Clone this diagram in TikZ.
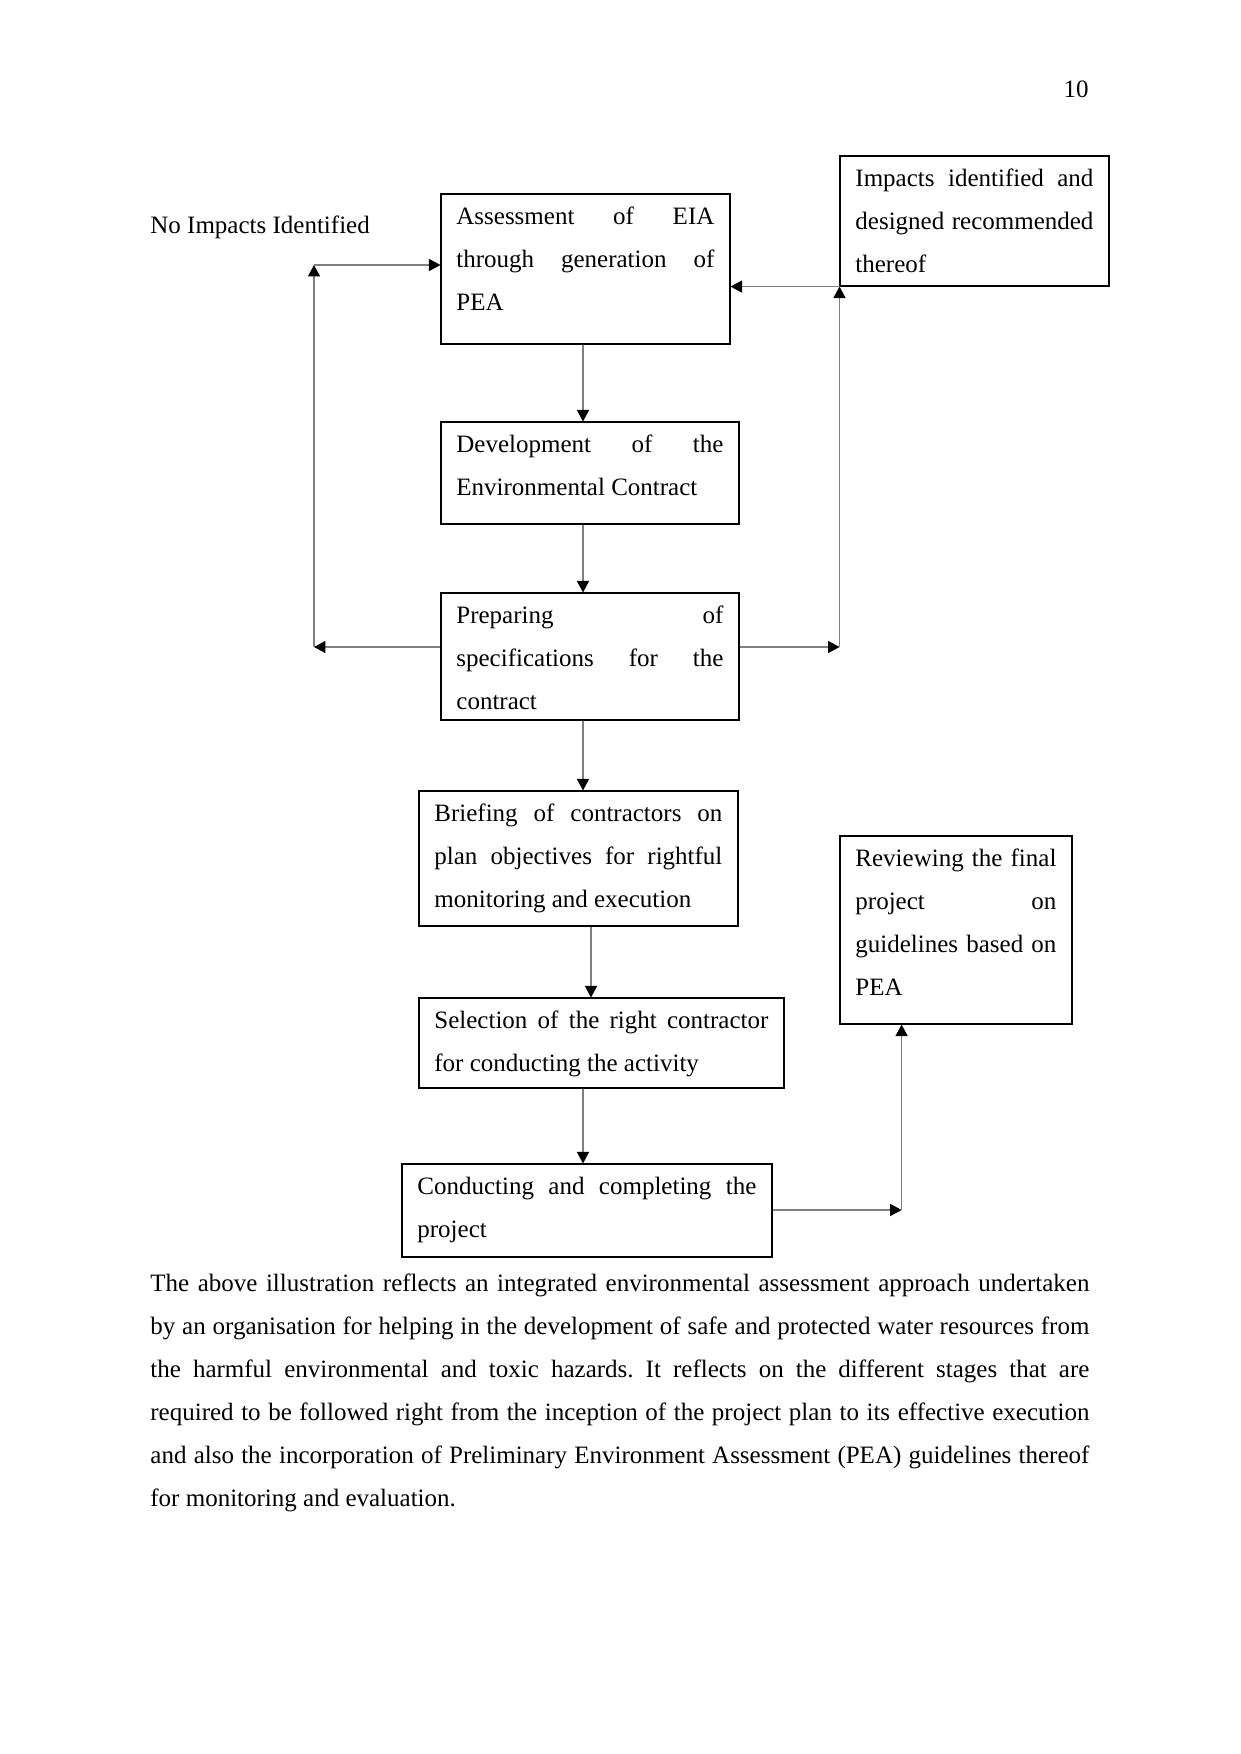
\documentclass[tikz,border=0pt]{standalone}
\usepackage{fontspec}
\setmainfont{Liberation Serif}
\usetikzlibrary{arrows.meta,fit}
\tolerance=10000 \hbadness=10000 \vbadness=10000
\hyphenpenalty=10000 \exhyphenpenalty=10000
\frenchspacing
\tikzset{
  box/.style={draw=black, line width=0.55pt, inner sep=0pt, rectangle},
  txt/.style={inner sep=0pt, anchor=base west, font=\fontsize{12pt}{20.7pt}\selectfont},
  plain/.style={inner sep=0pt, font=\fontsize{12pt}{20.7pt}\selectfont},
  conn/.style={draw=black!50, line width=0.5pt, -{Triangle[length=5.5pt,width=5.8pt,color=black]}}
}
\newcommand\jtext[2]{\begin{minipage}[t]{#1}\fontsize{12pt}{20.7pt}\selectfont\frenchspacing
  \parindent=0pt\leftskip=0pt\rightskip=0pt\parfillskip=0pt plus 1fil\relax #2\end{minipage}}
\newcommand\fbx[6]{%
  \node[box, fit={(#2,#3)(#4,#5)}] (#1) {};
  \pgfmathsetmacro\bxtw{(#4-#2-31)*0.48}
  \node[txt] (#1t) at (#2+15,#3+30) {\jtext{\bxtw pt}{#6}};
}
\begin{document}
\begin{tikzpicture}[x=0.48pt,y=-0.48pt]
\fill[white] (0,0) rectangle (1241,1754);
\useasboundingbox (0,0) rectangle (1241,1754);

\node[plain, anchor=base east] (pnum) at (1089,97) {10};
\node[plain, anchor=base west] (noimp) at (150,233) {No Impacts Identified};

\fbx{b1}{441}{194}{730}{344}{Assessment of EIA\linebreak through generation of\linebreak PEA}
\fbx{imp}{840}{156}{1109}{286}{Impacts identified and\linebreak designed recommended\linebreak thereof}
\fbx{b2}{441}{422}{739}{524}{Development of the\linebreak Environmental Contract}
\fbx{b3}{441}{593}{739}{720}{Preparing of\linebreak specifications for the\linebreak contract}
\fbx{b4}{419}{791}{738}{926}{Briefing of contractors on\linebreak plan objectives for rightful\linebreak monitoring and execution}
\fbx{b5}{419}{998}{784}{1088}{Selection of the right contractor\linebreak for conducting the activity}
\fbx{b6}{402}{1164}{772}{1257}{Conducting and completing the\linebreak project}
\fbx{rev}{840}{836}{1072}{1024}{Reviewing the final\linebreak project on\linebreak guidelines based on\linebreak PEA}

% helper coordinates
\coordinate (mid) at (583,0);
\coordinate (mid2) at (591,0);
\coordinate (LB) at (314,647);
\coordinate (LT) at (314,265);
\coordinate (RB) at (839.5,647);
\coordinate (BR) at (901.6,1210);

% main chain
\draw[conn] (b1.south -| mid) -- (b2.north -| mid);
\draw[conn] (b2.south -| mid) -- (b3.north -| mid);
\draw[conn] (b3.south -| mid) -- (b4.north -| mid);
\draw[conn] (b4.south -| mid2) -- (b5.north -| mid2);
\draw[conn] (b5.south -| mid) -- (b6.north -| mid);

% left loop
\draw[conn] (b3.west |- LB) -- (LB);
\draw[conn] (LB) -- (LT);
\draw[conn] (LT) -- (LT -| b1.west);

% right loop
\draw[conn] (b3.east |- RB) -- (RB);
\draw[conn] (RB) -- (RB |- imp.south);
\draw[conn] (RB |- imp.south) -- (imp.south -| b1.east);

% bottom loop
\draw[conn] (b6.east |- BR) -- (BR);
\draw[conn] (BR) -- (BR |- rev.south);

% paragraph
\node[txt] (para) at (150,1291) {\jtext{450.7pt}{The above illustration reflects an integrated environmental assessment approach undertaken\linebreak by an organisation for helping in the development of safe and protected water resources from\linebreak the harmful environmental and toxic hazards. It reflects on the different stages that are\linebreak required to be followed right from the inception of the project plan to its effective execution\linebreak and also the incorporation of Preliminary Environment Assessment (PEA) guidelines thereof\linebreak for monitoring and evaluation.}};
\end{tikzpicture}
\end{document}
